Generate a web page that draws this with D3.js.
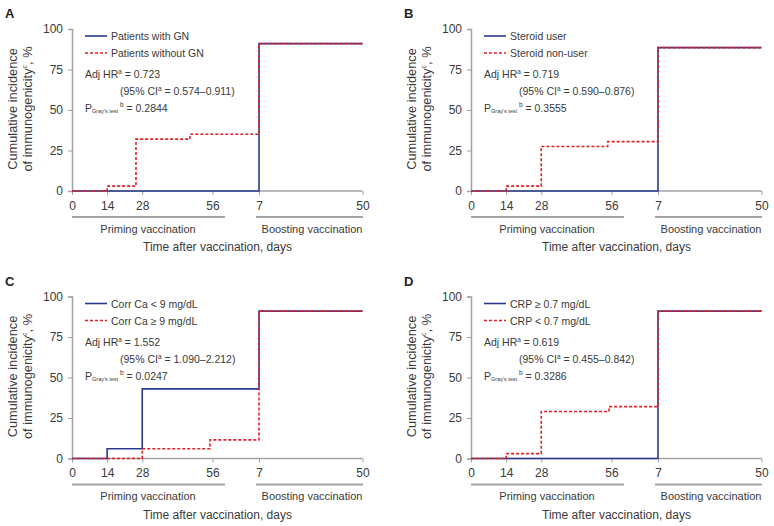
<!DOCTYPE html>
<html><head><meta charset="utf-8">
<script src="https://cdn.jsdelivr.net/npm/d3@7/dist/d3.min.js"></script>
<style>body{margin:0;background:#fff}svg{display:block}text{font-family:Arial,"Liberation Sans",sans-serif}</style>
</head><body><svg id="c" width="774" height="526"></svg>
<script>
// ---- data ----
const yTicks = [0, 25, 50, 75, 100];
const primingTicks = [0, 14, 28, 56];
const boostingTicks = [7, 50];
const panelLabels = ["A", "B", "C", "D"];
const blueNames = ["Patients with GN", "Steroid user", "Corr Ca < 9 mg/dL", "CRP \u2265 0.7 mg/dL"];
const redNames = ["Patients without GN", "Steroid non-user", "Corr Ca \u2265 9 mg/dL", "CRP < 0.7 mg/dL"];
const adjHR = ["0.723", "0.719", "1.552", "0.619"];
const ciRange = ["0.574\u20130.911", "0.590\u20130.876", "1.090\u20132.212", "0.455\u20130.842"];
const pGray = ["0.2844", "0.3555", "0.0247", "0.3286"];
// step curves: [phase (P=priming, B=boosting), day, cumulative incidence %]
const blueA = [["P",0,0],["B",7,0],["B",7,91],["B",50,91]];
const redA  = [["P",0,0],["P",14,0],["P",14,3],["P",25.5,3],["P",25.5,32],["P",47,32],["P",47,35],["B",7,35],["B",7,91],["B",50,91]];
const blueB = [["P",0,0],["B",7,0],["B",7,88.5],["B",50,88.5]];
const redB  = [["P",0,0],["P",14,0],["P",14,3],["P",28,3],["P",28,27.5],["P",54.5,27.5],["P",54.5,30.5],["B",7,30.5],["B",7,88.5],["B",50,88.5]];
const blueC = [["P",0,0],["P",14,0],["P",14,6],["P",28,6],["P",28,43],["B",7,43],["B",7,91],["B",50,91]];
const redC  = [["P",0,0],["P",28,0],["P",28,6],["P",55,6],["P",55,11.5],["B",7,11.5],["B",7,91],["B",50,91]];
const blueD = [["P",0,0],["B",7,0],["B",7,91],["B",50,91]];
const redD  = [["P",0,0],["P",14,0],["P",14,3],["P",28,3],["P",28,29],["P",55,29],["P",55,32],["B",7,32],["B",7,91],["B",50,91]];
const blueSeries = [blueA, blueB, blueC, blueD];
const redSeries = [redA, redB, redC, redD];

// ---- layout ----
const origins = [[72,191],[471,191],[72,458.5],[471,458.5]];
const BLUE = "#2a3b8f", RED = "#e31e26", AX = "#a3a3a3", TXT = "#3a3a3a";
const svg = d3.select("#c");

const xP = d3.scaleLinear().domain([0,56]).range([0,140.5]);
const xB = d3.scaleLinear().domain([7,50]).range([187,290.5]);
const y = d3.scaleLinear().domain([0,100]).range([0,-162]);
const xf = d => d[0] === "P" ? xP(d[1]) : xB(d[1]);
const line = d3.line().x(xf).y(d => y(d[2]));

origins.forEach((o, i) => {
  const g = svg.append("g").attr("transform", `translate(${o[0]},${o[1]})`);
  g.append("text").attr("x", -67).attr("y", -173).attr("font-size", 13).attr("font-weight", "bold").attr("fill", "#222").text(panelLabels[i]);
  const ya = g.append("g").call(d3.axisLeft(y).tickValues(yTicks).tickSize(4).tickPadding(5));
  ya.select(".domain").attr("stroke", AX).attr("stroke-width", 1.5);
  ya.selectAll(".tick line").attr("stroke", AX);
  ya.selectAll(".tick text").attr("font-size", 12).attr("fill", TXT).attr("font-family", "Arial, Liberation Sans, sans-serif");
  g.append("line").attr("x1", 0).attr("x2", xB(50)).attr("y1", 0).attr("y2", 0).attr("stroke", AX).attr("stroke-width", 1.5);
  const xpa = g.append("g").call(d3.axisBottom(xP).tickValues(primingTicks).tickSize(4).tickPadding(6));
  const xba = g.append("g").call(d3.axisBottom(xB).tickValues(boostingTicks).tickSize(4).tickPadding(6));
  [xpa, xba].forEach(a => {
    a.select(".domain").remove();
    a.selectAll(".tick line").attr("stroke", AX);
    a.selectAll(".tick text").attr("font-size", 12).attr("fill", TXT).attr("font-family", "Arial, Liberation Sans, sans-serif");
  });
  g.append("line").attr("x1", xP(0)).attr("x2", xP(56) + 12.5).attr("y1", 26).attr("y2", 26).attr("stroke", AX).attr("stroke-width", 2);
  g.append("line").attr("x1", xB(7) - 3).attr("x2", xB(50) + 0.5).attr("y1", 26).attr("y2", 26).attr("stroke", AX).attr("stroke-width", 2);
  g.append("text").attr("x", 76).attr("y", 41.5).attr("text-anchor", "middle").attr("font-size", 11).attr("fill", TXT).text("Priming vaccination");
  g.append("text").attr("x", 240).attr("y", 41.5).attr("text-anchor", "middle").attr("font-size", 11).attr("fill", TXT).text("Boosting vaccination");
  g.append("text").attr("x", 145.5).attr("y", 60).attr("text-anchor", "middle").attr("font-size", 12).attr("fill", TXT).text("Time after vaccination, days");
  const yl = g.append("text").attr("transform", "translate(-55.5,-82) rotate(-90)").attr("text-anchor", "middle").attr("font-size", 12.8).attr("fill", TXT);
  yl.append("tspan").attr("x", 0).attr("dy", 0).text("Cumulative incidence");
  const t2 = yl.append("tspan").attr("x", 0).attr("dy", 15);
  t2.append("tspan").text("of immunogenicity");
  t2.append("tspan").attr("font-size", 7).attr("dy", -5).text("c");
  t2.append("tspan").attr("dy", 5).text(", %");
  g.append("path").attr("d", line(blueSeries[i])).attr("fill", "none").attr("stroke", BLUE).attr("stroke-width", 1.6);
  g.append("path").attr("d", line(redSeries[i])).attr("fill", "none").attr("stroke", RED).attr("stroke-width", 1.6).attr("stroke-dasharray", "3,2");
  g.append("line").attr("x1", 13).attr("x2", 35).attr("y1", -155).attr("y2", -155).attr("stroke", BLUE).attr("stroke-width", 1.6);
  g.append("line").attr("x1", 13).attr("x2", 35).attr("y1", -138).attr("y2", -138).attr("stroke", RED).attr("stroke-width", 1.6).attr("stroke-dasharray", "3,2");
  g.append("text").attr("x", 39).attr("y", -151).attr("font-size", 10.5).attr("fill", TXT).text(blueNames[i]);
  g.append("text").attr("x", 39).attr("y", -134).attr("font-size", 10.5).attr("fill", TXT).text(redNames[i]);
  const s1 = g.append("text").attr("x", 13).attr("y", -113).attr("font-size", 10.5).attr("fill", TXT);
  s1.append("tspan").text("Adj HR");
  s1.append("tspan").attr("font-size", 6.5).attr("dy", -4).text("a");
  s1.append("tspan").attr("dy", 4).text(" = " + adjHR[i]);
  const s2 = g.append("text").attr("x", 48).attr("y", -96).attr("font-size", 10.5).attr("fill", TXT);
  s2.append("tspan").text("(95% CI");
  s2.append("tspan").attr("font-size", 6.5).attr("dy", -4).text("a");
  s2.append("tspan").attr("dy", 4).text(" = " + ciRange[i] + ")");
  const s3 = g.append("text").attr("x", 13).attr("y", -79).attr("font-size", 10.5).attr("fill", TXT);
  s3.append("tspan").text("P");
  s3.append("tspan").attr("font-size", 5.5).attr("dy", 1).text("Gray's test");
  s3.append("tspan").attr("font-size", 6.5).attr("dy", -6).text(" b");
  s3.append("tspan").attr("dy", 5).text(" = " + pGray[i]);
});
</script></body></html>
